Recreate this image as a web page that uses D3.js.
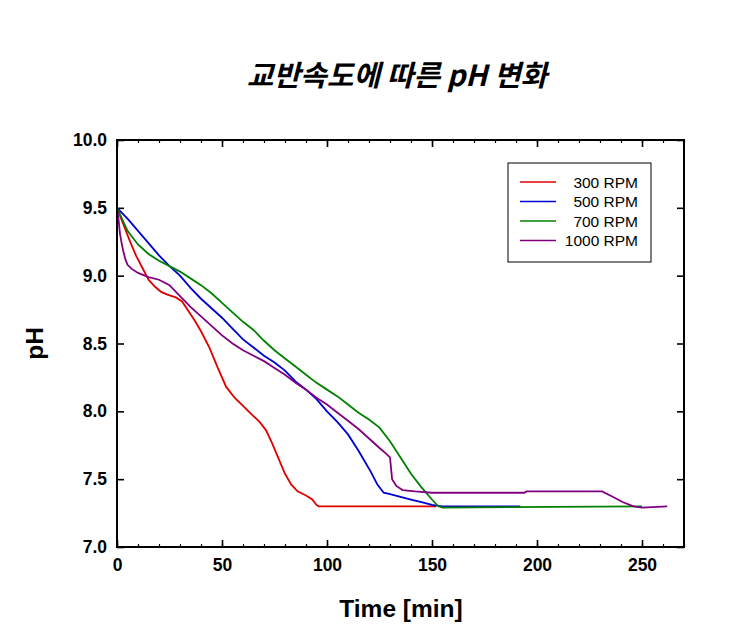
<!DOCTYPE html>
<html><head><meta charset="utf-8">
<script src="https://cdn.jsdelivr.net/npm/d3@7"></script>
<style>body{margin:0;background:#fff}svg{display:block}</style>
</head><body>
<script>
const title = "교반속도에 따른 pH 변화";
const xLabel = "Time [min]";
const yLabel = "pH";
const seriesNames = ["300 RPM","500 RPM","700 RPM","1000 RPM"];
const seriesColors = ["#e00000","#0000d0","#008000","#800080"];
const xTicks = [0,50,100,150,200,250];
const yTicks = [7.0,7.5,8.0,8.5,9.0,9.5,10.0];

const t300 = [0,3,6,9,12,15,18,21,24,28,31,34,37,40,44,48,52,56,60,64,68,71,74,77,80,83,86,90,93,95,96,152];
const ph300 = [9.5,9.38,9.26,9.15,9.06,8.97,8.92,8.88,8.86,8.84,8.81,8.74,8.67,8.59,8.47,8.32,8.18,8.10,8.04,7.98,7.92,7.86,7.76,7.65,7.54,7.46,7.41,7.38,7.35,7.31,7.30,7.30];

const t500 = [0,5,10,15,20,25,30,35,40,45,50,55,60,65,70,75,80,85,90,95,100,105,110,115,118,121,124,127,130,135,140,145,150,155,192];
const ph500 = [9.5,9.42,9.33,9.24,9.15,9.07,9.0,8.91,8.83,8.76,8.69,8.61,8.53,8.47,8.41,8.36,8.30,8.22,8.16,8.09,8.0,7.92,7.83,7.71,7.63,7.55,7.46,7.40,7.39,7.37,7.35,7.33,7.31,7.30,7.30];

const t700 = [0,5,10,15,20,25,30,35,40,45,50,55,60,65,70,75,80,85,90,95,100,105,110,115,120,125,130,135,140,145,150,153,155,250];
const ph700 = [9.5,9.33,9.23,9.16,9.11,9.07,9.03,8.98,8.93,8.87,8.80,8.73,8.66,8.60,8.52,8.45,8.39,8.33,8.27,8.21,8.16,8.11,8.05,7.99,7.94,7.88,7.78,7.66,7.54,7.44,7.35,7.30,7.29,7.30];

const t1000 = [0,0.7,1.4,2.2,3,4,5,7,10,15,20,25,30,35,40,45,50,55,60,65,70,75,80,85,90,95,100,105,110,115,120,125,128,130,130.5,131,133,136,142,150,194,195,231,236,241,246,250,262];
const ph1000 = [9.5,9.42,9.31,9.24,9.18,9.12,9.08,9.05,9.02,8.99,8.97,8.93,8.85,8.77,8.70,8.63,8.56,8.50,8.45,8.41,8.37,8.32,8.27,8.21,8.16,8.10,8.05,7.99,7.93,7.87,7.80,7.73,7.69,7.66,7.58,7.50,7.45,7.42,7.41,7.40,7.40,7.41,7.41,7.37,7.33,7.30,7.29,7.30];

const series = [[t300,ph300],[t500,ph500],[t700,ph700],[t1000,ph1000]];

const W = 738, H = 639;
const L = 117, R = 684, T = 140, B = 547;
const svg = d3.select("body").append("svg").attr("width", W).attr("height", H);
const x = d3.scaleLinear().domain([0,270]).range([L,R]);
const y = d3.scaleLinear().domain([7,10]).range([B,T]);
const font = "Arial, 'Liberation Sans', sans-serif";

// title
svg.append("text").attr("x", 397).attr("y", 86).attr("text-anchor","middle")
  .attr("font-family","'Noto Sans CJK KR', sans-serif").attr("font-weight","bold")
  .attr("font-style","italic").attr("font-size",29).text(title);

// axes with inward ticks
const minor = d3.range(0,271,10);
svg.append("g").attr("transform",`translate(0,${B})`)
  .call(d3.axisBottom(x).tickValues(minor).tickSize(-3).tickFormat(""))
  .call(g=>{g.select(".domain").remove(); g.selectAll("line").attr("stroke-width",1.2);});
svg.append("g").attr("transform",`translate(0,${T})`)
  .call(d3.axisTop(x).tickValues(minor).tickSize(-3).tickFormat(""))
  .call(g=>{g.select(".domain").remove(); g.selectAll("line").attr("stroke-width",1.2);});
const xb = svg.append("g").attr("transform",`translate(0,${B})`)
  .call(d3.axisBottom(x).tickValues(xTicks).tickSize(-7).tickPadding(12).tickFormat(d3.format("d")));
const xt = svg.append("g").attr("transform",`translate(0,${T})`)
  .call(d3.axisTop(x).tickValues(xTicks).tickSize(-7).tickFormat(""));
const yl = svg.append("g").attr("transform",`translate(${L},0)`)
  .call(d3.axisLeft(y).tickValues(yTicks).tickSize(-7).tickPadding(10).tickFormat(d3.format(".1f")));
const yr = svg.append("g").attr("transform",`translate(${R},0)`)
  .call(d3.axisRight(y).tickValues(yTicks).tickSize(-7).tickFormat(""));
[xb,xt,yl,yr].forEach(g=>{
  g.select(".domain").remove();
  g.selectAll("line").attr("stroke","#000").attr("stroke-width",1.6);
  g.selectAll("text").attr("font-family",font).attr("font-weight","bold").attr("font-size",17.5).attr("fill","#000");
});

// series lines
const clip = svg.append("clipPath").attr("id","c").append("rect")
  .attr("x",L).attr("y",T).attr("width",R-L).attr("height",B-T);
const line = d3.line().x(d=>x(d[0])).y(d=>y(d[1]));
series.forEach((s,i)=>{
  const pts = s[0].map((t,j)=>[t,s[1][j]]);
  svg.append("path").datum(pts).attr("d",line).attr("fill","none")
    .attr("stroke",seriesColors[i]).attr("stroke-width",1.8).attr("clip-path","url(#c)");
});

// frame
svg.append("rect").attr("x",L).attr("y",T).attr("width",R-L).attr("height",B-T)
  .attr("fill","none").attr("stroke","#000").attr("stroke-width",2);

// axis labels
svg.append("text").attr("x",401).attr("y",617).attr("text-anchor","middle")
  .attr("font-family",font).attr("font-weight","bold").attr("font-size",24.5).text(xLabel);
svg.append("text").attr("transform",`translate(43,${(T+B)/2}) rotate(-90)`).attr("text-anchor","middle")
  .attr("font-family",font).attr("font-weight","bold").attr("font-size",24.5).text(yLabel);

// legend
const lg = svg.append("g");
lg.append("rect").attr("x",508).attr("y",163).attr("width",143).attr("height",99)
  .attr("fill","#fff").attr("stroke","#000").attr("stroke-width",1);
seriesNames.forEach((n,i)=>{
  const yy = 182 + i*19.5;
  lg.append("line").attr("x1",520).attr("x2",556).attr("y1",yy).attr("y2",yy)
    .attr("stroke",seriesColors[i]).attr("stroke-width",1.6);
  lg.append("text").attr("x",638).attr("y",yy+5.5).attr("text-anchor","end")
    .attr("font-family",font).attr("font-size",15.5).text(n);
});
</script>
</body></html>
